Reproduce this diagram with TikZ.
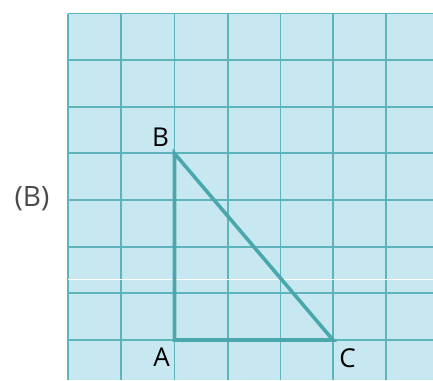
\documentclass[tikz,border=0pt]{standalone}
\usepackage{fontspec}
\setmainfont{Open Sans}
\definecolor{gridfill}{HTML}{C8E8F1}
\definecolor{gridline}{HTML}{5DB4BB}
\definecolor{triline}{HTML}{4AA8AD}
\definecolor{labgray}{HTML}{4A4A4A}
\begin{document}
\begin{tikzpicture}[x=1pt,y=-1pt,
  gridl/.style={draw=gridline,line width=1.9pt},
  tri/.style={draw=triline,line width=3.6pt,line join=miter},
  lab/.style={font=\fontsize{26}{26}\selectfont,text=black,inner sep=0pt}]
\useasboundingbox (0,0) rectangle (433,380);
\fill[gridfill] (68,13.5) rectangle (433,380);
\foreach \x in {68,121,174.5,228,280.5,333,386}
  \draw[gridl] (\x,13.5) -- (\x,380);
\foreach \y in {13.5,60.2,106.8,153.4,200,246.7,293.4,340}
  \draw[gridl] (68,\y) -- (433,\y);
\draw[white,line width=1.2pt] (68,279.5) -- (433,279.5);
\coordinate (A) at (174.5,340);
\coordinate (B) at (174.5,153.4);
\coordinate (C) at (333,340);
\draw[tri] (B) -- (A) -- (C) -- cycle;
\node[lab] (lB) at (160.5,137.5) {B};
\node[lab] (lA) at (161.5,357.5) {A};
\node[lab] (lC) at (347.5,358) {C};
\node[lab,text=labgray,font=\fontsize{28}{28}\selectfont] (tag) at (32,198.5) {(B)};
\end{tikzpicture}
\end{document}
